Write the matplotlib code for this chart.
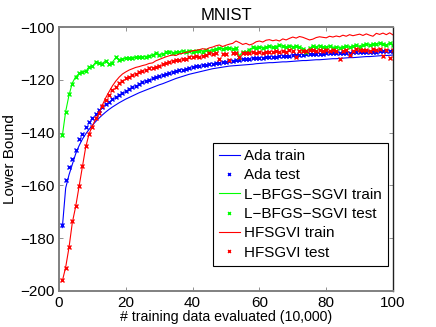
import matplotlib
matplotlib.use("Agg")
import matplotlib.pyplot as plt
import numpy as np

plt.rcParams["font.family"] = ["Liberation Sans", "DejaVu Sans"]

# x axis: training data evaluated, in units of 10,000
x_vals = list(range(1, 101))

# ── Ada ────────────────────────────────────────────────────────────────────
ada_train = [
    -176.0, -161.0, -156.0, -152.0, -148.0, -145.0, -142.5, -140.5, -138.8, -137.2,
    -135.8, -134.5, -133.3, -132.2, -131.2, -130.3, -129.5, -128.7, -128.0, -127.3,
    -126.7, -126.1, -125.5, -124.9, -124.4, -123.9, -123.4, -122.9, -122.4, -121.9,
    -121.5, -121.0, -120.5, -120.0, -119.5, -119.1, -118.7, -118.3, -117.9, -117.6,
    -117.3, -117.0, -116.7, -116.4, -116.1, -115.8, -115.6, -115.4, -115.2, -115.0,
    -114.8, -114.7, -114.6, -114.5, -114.4, -114.3, -114.2, -114.1, -113.9, -113.8,
    -113.7, -113.6, -113.5, -113.5, -113.4, -113.3, -113.2, -113.2, -113.1, -113.0,
    -112.9, -112.8, -112.7, -112.7, -112.6, -112.5, -112.4, -112.4, -112.3, -112.2,
    -112.1, -112.0, -112.0, -111.9, -111.8, -111.7, -111.6, -111.6, -111.5, -111.4,
    -111.3, -111.2, -111.2, -111.1, -111.0, -110.9, -110.8, -110.8, -110.7, -110.6,
]
ada_test = [
    -175.0, -158.0, -153.0, -150.0, -146.5, -142.5, -140.5, -138.0, -136.0, -134.5,
    -133.0, -131.5, -130.3, -129.3, -128.3, -127.3, -126.5, -125.7, -124.9, -124.2,
    -123.5, -122.8, -122.2, -121.6, -121.0, -120.5, -120.0, -119.5, -119.0, -118.6,
    -118.2, -117.8, -117.4, -117.0, -116.7, -116.4, -116.1, -115.8, -115.5, -115.2,
    -114.9, -114.7, -114.5, -114.3, -114.1, -113.9, -113.7, -113.5, -113.3, -113.1,
    -112.9, -112.8, -112.6, -112.5, -112.3, -112.2, -112.1, -111.9, -111.8, -111.7,
    -111.6, -111.5, -111.4, -111.3, -111.2, -111.1, -111.0, -110.9, -110.8, -110.7,
    -110.6, -110.5, -110.5, -110.4, -110.3, -110.3, -110.2, -110.1, -110.1, -110.0,
    -110.0, -109.9, -109.9, -109.8, -109.8, -109.7, -109.7, -109.6, -109.6, -109.5,
    -109.5, -109.4, -109.4, -109.3, -109.3, -109.2, -109.2, -109.1, -109.1, -109.0,
]

# ── L-BFGS-SGVI ────────────────────────────────────────────────────────────
lbfgs_train = [
    -141.2, -132.0, -125.8, -121.2, -118.8, -117.8, -116.7, -116.9, -115.0, -115.1,
    -113.2, -113.9, -113.7, -112.8, -114.0, -113.3, -111.6, -112.2, -112.4, -111.6,
    -112.1, -111.4, -111.7, -111.1, -111.4, -111.2, -110.8, -110.7, -109.8, -110.4,
    -110.2, -109.8, -109.1, -109.6, -109.7, -109.4, -109.0, -109.6, -108.8, -109.1,
    -109.3, -108.7, -109.1, -108.6, -109.2, -108.5, -108.5, -107.8, -108.4, -107.7,
    -108.3, -108.2, -108.2, -110.9, -109.4, -109.6, -108.4, -107.8, -107.6, -107.7,
    -107.7, -107.8, -107.1, -107.9, -107.2, -107.2, -107.1, -107.7, -106.9, -107.6,
    -107.0, -107.8, -108.0, -109.0, -108.2, -107.0, -107.7, -106.9, -107.6, -107.4,
    -107.5, -107.6, -107.7, -107.7, -107.6, -107.0, -107.8, -107.1, -107.2, -107.2,
    -106.6, -106.8, -106.7, -106.5, -106.3, -106.3, -106.2, -106.9, -106.0, -106.8,
]
lbfgs_test = [
    -141.0, -132.3, -125.5, -121.5, -119.0, -117.5, -117.0, -116.6, -115.2, -114.8,
    -113.4, -113.6, -114.0, -113.0, -114.2, -113.6, -111.3, -112.5, -112.2, -111.8,
    -111.9, -111.6, -111.5, -111.3, -111.2, -111.4, -111.0, -110.5, -110.0, -110.6,
    -110.4, -109.6, -109.3, -109.8, -109.5, -109.6, -109.2, -109.4, -109.0, -109.3,
    -109.1, -108.9, -109.3, -108.8, -109.0, -108.7, -108.3, -108.0, -108.2, -107.9,
    -108.1, -108.4, -108.0, -111.2, -109.6, -109.4, -108.6, -107.6, -107.8, -107.5,
    -107.9, -107.6, -107.3, -107.7, -107.4, -107.0, -107.3, -107.5, -107.1, -107.4,
    -107.2, -107.6, -108.2, -109.3, -108.0, -107.2, -107.5, -107.1, -107.4, -107.6,
    -107.3, -107.8, -107.5, -107.9, -107.4, -107.2, -107.6, -107.3, -107.0, -107.4,
    -106.8, -106.6, -106.9, -106.3, -106.5, -106.1, -106.4, -106.7, -106.2, -107.0,
]

# ── HFSGVI ─────────────────────────────────────────────────────────────────
hf_train = [
    -196.2, -191.0, -183.5, -174.0, -168.0, -160.5, -153.0, -145.5, -140.5, -137.5,
    -134.8, -132.6, -129.5, -126.8, -124.5, -122.3, -120.5, -119.0, -117.8, -117.0,
    -116.3, -115.8, -115.3, -115.0, -114.6, -114.3, -113.8, -113.6, -112.8, -112.3,
    -111.8, -111.3, -110.9, -110.6, -110.8, -110.2, -110.0, -109.6, -109.4, -109.0,
    -108.8, -108.6, -108.2, -108.5, -107.9, -107.6, -107.1, -106.8, -107.4, -106.9,
    -106.5, -106.2, -105.3, -105.9, -106.6, -106.2, -106.8, -106.4, -105.6, -105.3,
    -105.7, -105.0, -104.8, -105.2, -104.9, -105.3, -104.5, -104.9, -104.3, -103.8,
    -104.2, -103.6, -103.9, -104.4, -104.9, -104.6, -104.0, -103.7, -103.9, -104.1,
    -103.5, -103.8, -103.4, -103.7, -103.1, -103.5, -102.9, -103.3, -103.0, -102.7,
    -103.2, -102.6, -103.1, -103.5, -102.4, -102.8, -102.3, -102.9, -102.2, -103.0,
]
hf_test = [
    -196.0, -191.4, -183.2, -173.5, -167.8, -160.2, -152.7, -145.1, -140.6, -137.8,
    -134.6, -132.5, -130.0, -127.7, -125.8, -123.9, -122.6, -121.3, -120.3, -119.4,
    -118.8, -118.2, -117.7, -117.2, -116.7, -116.3, -115.7, -115.4, -115.0, -114.6,
    -114.2, -113.8, -113.1, -113.0, -112.6, -112.5, -112.2, -112.0, -111.2, -111.5,
    -111.0, -111.2, -110.8, -110.5, -110.0, -110.3, -110.0, -112.2, -110.4, -110.1,
    -112.5, -110.0, -109.9, -111.2, -110.0, -109.8, -110.0, -109.6, -109.9, -109.5,
    -109.7, -109.3, -109.3, -109.6, -109.1, -109.4, -109.2, -109.3, -108.7, -109.0,
    -111.2, -109.1, -108.9, -109.2, -108.8, -108.7, -109.0, -108.6, -109.1, -108.8,
    -109.0, -108.7, -109.2, -112.1, -108.9, -108.6, -110.6, -109.0, -108.5, -108.8,
    -108.6, -108.7, -108.9, -108.4, -108.8, -108.5, -110.9, -108.6, -111.9, -108.7,
]

x_ticks = [0, 20, 40, 60, 80, 100]
y_ticks = [-200, -180, -160, -140, -120, -100]

# ── Plot ───────────────────────────────────────────────────────────────────
fig = plt.figure(figsize=(4.36, 3.27), dpi=100)
ax = fig.add_axes([0.1353, 0.1101, 0.7661, 0.8073])

lw = 0.8
ms = 3.5
ax.plot(x_vals, ada_train, "-", color="#0000ff", lw=lw, label="Ada train")
ax.plot(x_vals, ada_test, "x", color="#0000ff", ms=ms, mew=1.0, label="Ada test")
ax.plot(x_vals, lbfgs_train, "-", color="#00ff00", lw=lw, label="L\u2212BFGS\u2212SGVI train")
ax.plot(x_vals, lbfgs_test, "x", color="#00ff00", ms=ms, mew=1.0, label="L\u2212BFGS\u2212SGVI test")
ax.plot(x_vals, hf_train, "-", color="#ff0000", lw=lw, label="HFSGVI train")
ax.plot(x_vals, hf_test, "x", color="#ff0000", ms=ms, mew=1.0, label="HFSGVI test")

ax.set_xlim(0, 100)
ax.set_ylim(-200, -100)
ax.set_xticks(x_ticks)
ax.set_yticks(y_ticks)
ax.tick_params(direction="in", top=True, right=True, length=3,
               width=0.6, labelsize=11, colors="#000000")
ax.tick_params(axis="both", color="#808080")

for side in ("left", "top", "bottom"):
    ax.spines[side].set_color("#808080")
    ax.spines[side].set_linewidth(1.4)
ax.spines["right"].set_color("#202020")
ax.spines["right"].set_linewidth(1.0)

ax.set_title("MNIST", fontsize=12, pad=5)
ax.set_xlabel("# training data evaluated (10,000)", fontsize=10.2, labelpad=0)
ax.set_ylabel("Lower Bound", fontsize=11, labelpad=2)

leg = ax.legend(loc="lower right", bbox_to_anchor=(0.985, 0.095),
                borderaxespad=0, fontsize=11, numpoints=1, markerscale=0.6,
                handlelength=1.41, handletextpad=0.26, labelspacing=0.35,
                borderpad=0.4, fancybox=False, framealpha=1)
leg.get_frame().set_edgecolor("#000000")
leg.get_frame().set_linewidth(0.8)

plt.savefig("out.png", dpi=100)
plt.close()
